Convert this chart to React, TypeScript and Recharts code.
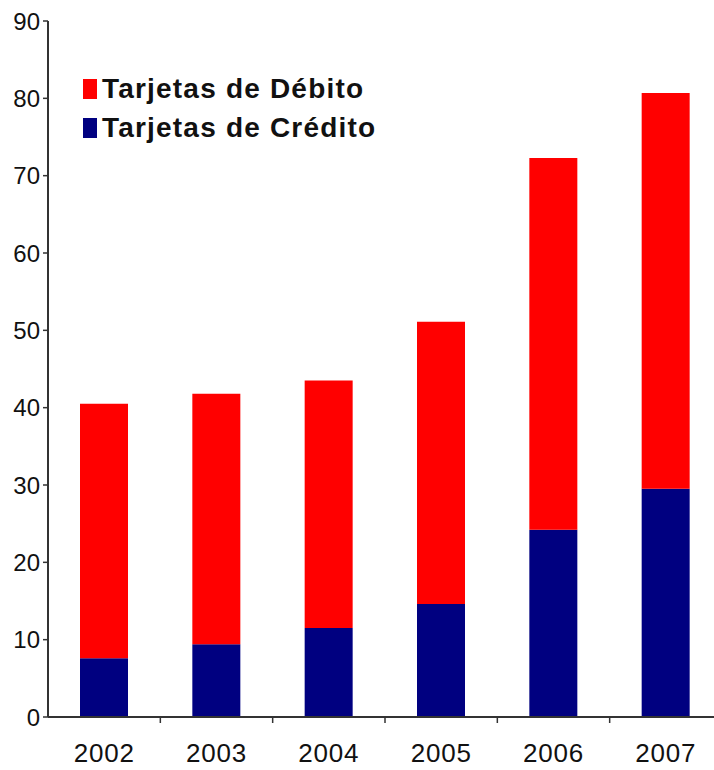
import { Bar, BarChart, Legend, XAxis, YAxis } from "recharts";

const years = ["2002", "2003", "2004", "2005", "2006", "2007"];
const credito = [7.6, 9.4, 11.5, 14.6, 24.2, 29.5];
const debito = [32.9, 32.4, 32.0, 36.5, 48.1, 51.2];
const yTicks = [0, 10, 20, 30, 40, 50, 60, 70, 80, 90];

const SERIES = [
  { key: "debito", name: "Tarjetas de Débito", color: "#ff0000" },
  { key: "credito", name: "Tarjetas de Crédito", color: "#000080" },
];

const data = years.map((year, i) => ({
  year,
  credito: credito[i],
  debito: debito[i],
}));

const FONT = '"Liberation Sans", Arial, sans-serif';
const AXIS = "#333";

// category ticks sit between bars, so draw the tick line at the band edge
function YearTick(props: any) {
  const { x, y, payload } = props;
  const half = payload?.offset ?? 0;
  return (
    <g>
      <line x1={x + half} x2={x + half} y1={y} y2={y + 6} stroke={AXIS} strokeWidth={1.5} />
      <text
        x={x}
        y={y + 45}
        textAnchor="middle"
        fontSize={26}
        letterSpacing={0.8}
        fill="#111"
        fontFamily={FONT}
      >
        {payload.value}
      </text>
    </g>
  );
}

function LegendBox() {
  return (
    <div style={{ fontFamily: FONT }}>
      {SERIES.map((s) => (
        <div key={s.key} style={{ display: "flex", alignItems: "center", height: 39 }}>
          <span style={{ width: 14, height: 20, background: s.color, marginRight: 5 }} />
          <span
            style={{
              fontSize: 28,
              fontWeight: "bold",
              letterSpacing: 1.2,
              color: "#111",
              whiteSpace: "nowrap",
            }}
          >
            {s.name}
          </span>
        </div>
      ))}
    </div>
  );
}

export default function App() {
  return (
    <div style={{ position: "fixed", top: 0, left: 0, width: 714, height: 770, overflow: "hidden", background: "#fff" }}>
      <BarChart
        width={730}
        height={770}
        data={data}
        margin={{ top: 21, right: 8, bottom: 0, left: 0 }}
        barSize={48}
      >
        <YAxis
          width={48}
          domain={[0, 90]}
          ticks={yTicks}
          interval={0}
          tickSize={5}
          tickMargin={3}
          axisLine={{ stroke: AXIS, strokeWidth: 2 }}
          tickLine={{ stroke: AXIS, strokeWidth: 1.5 }}
          tick={{ fontSize: 24, fill: "#111", fontFamily: FONT }}
        />
        <XAxis
          dataKey="year"
          height={53}
          interval={0}
          tickSize={0}
          tickMargin={0}
          tickLine={false}
          axisLine={{ stroke: AXIS, strokeWidth: 2 }}
          tick={<YearTick />}
        />
        <Legend
          layout="vertical"
          align="center"
          verticalAlign="middle"
          content={<LegendBox />}
          wrapperStyle={{ top: 69, left: 83, width: 340 }}
        />
        <Bar dataKey="credito" stackId="a" fill="#000080" isAnimationActive={false} />
        <Bar dataKey="debito" stackId="a" fill="#ff0000" isAnimationActive={false} />
      </BarChart>
    </div>
  );
}
